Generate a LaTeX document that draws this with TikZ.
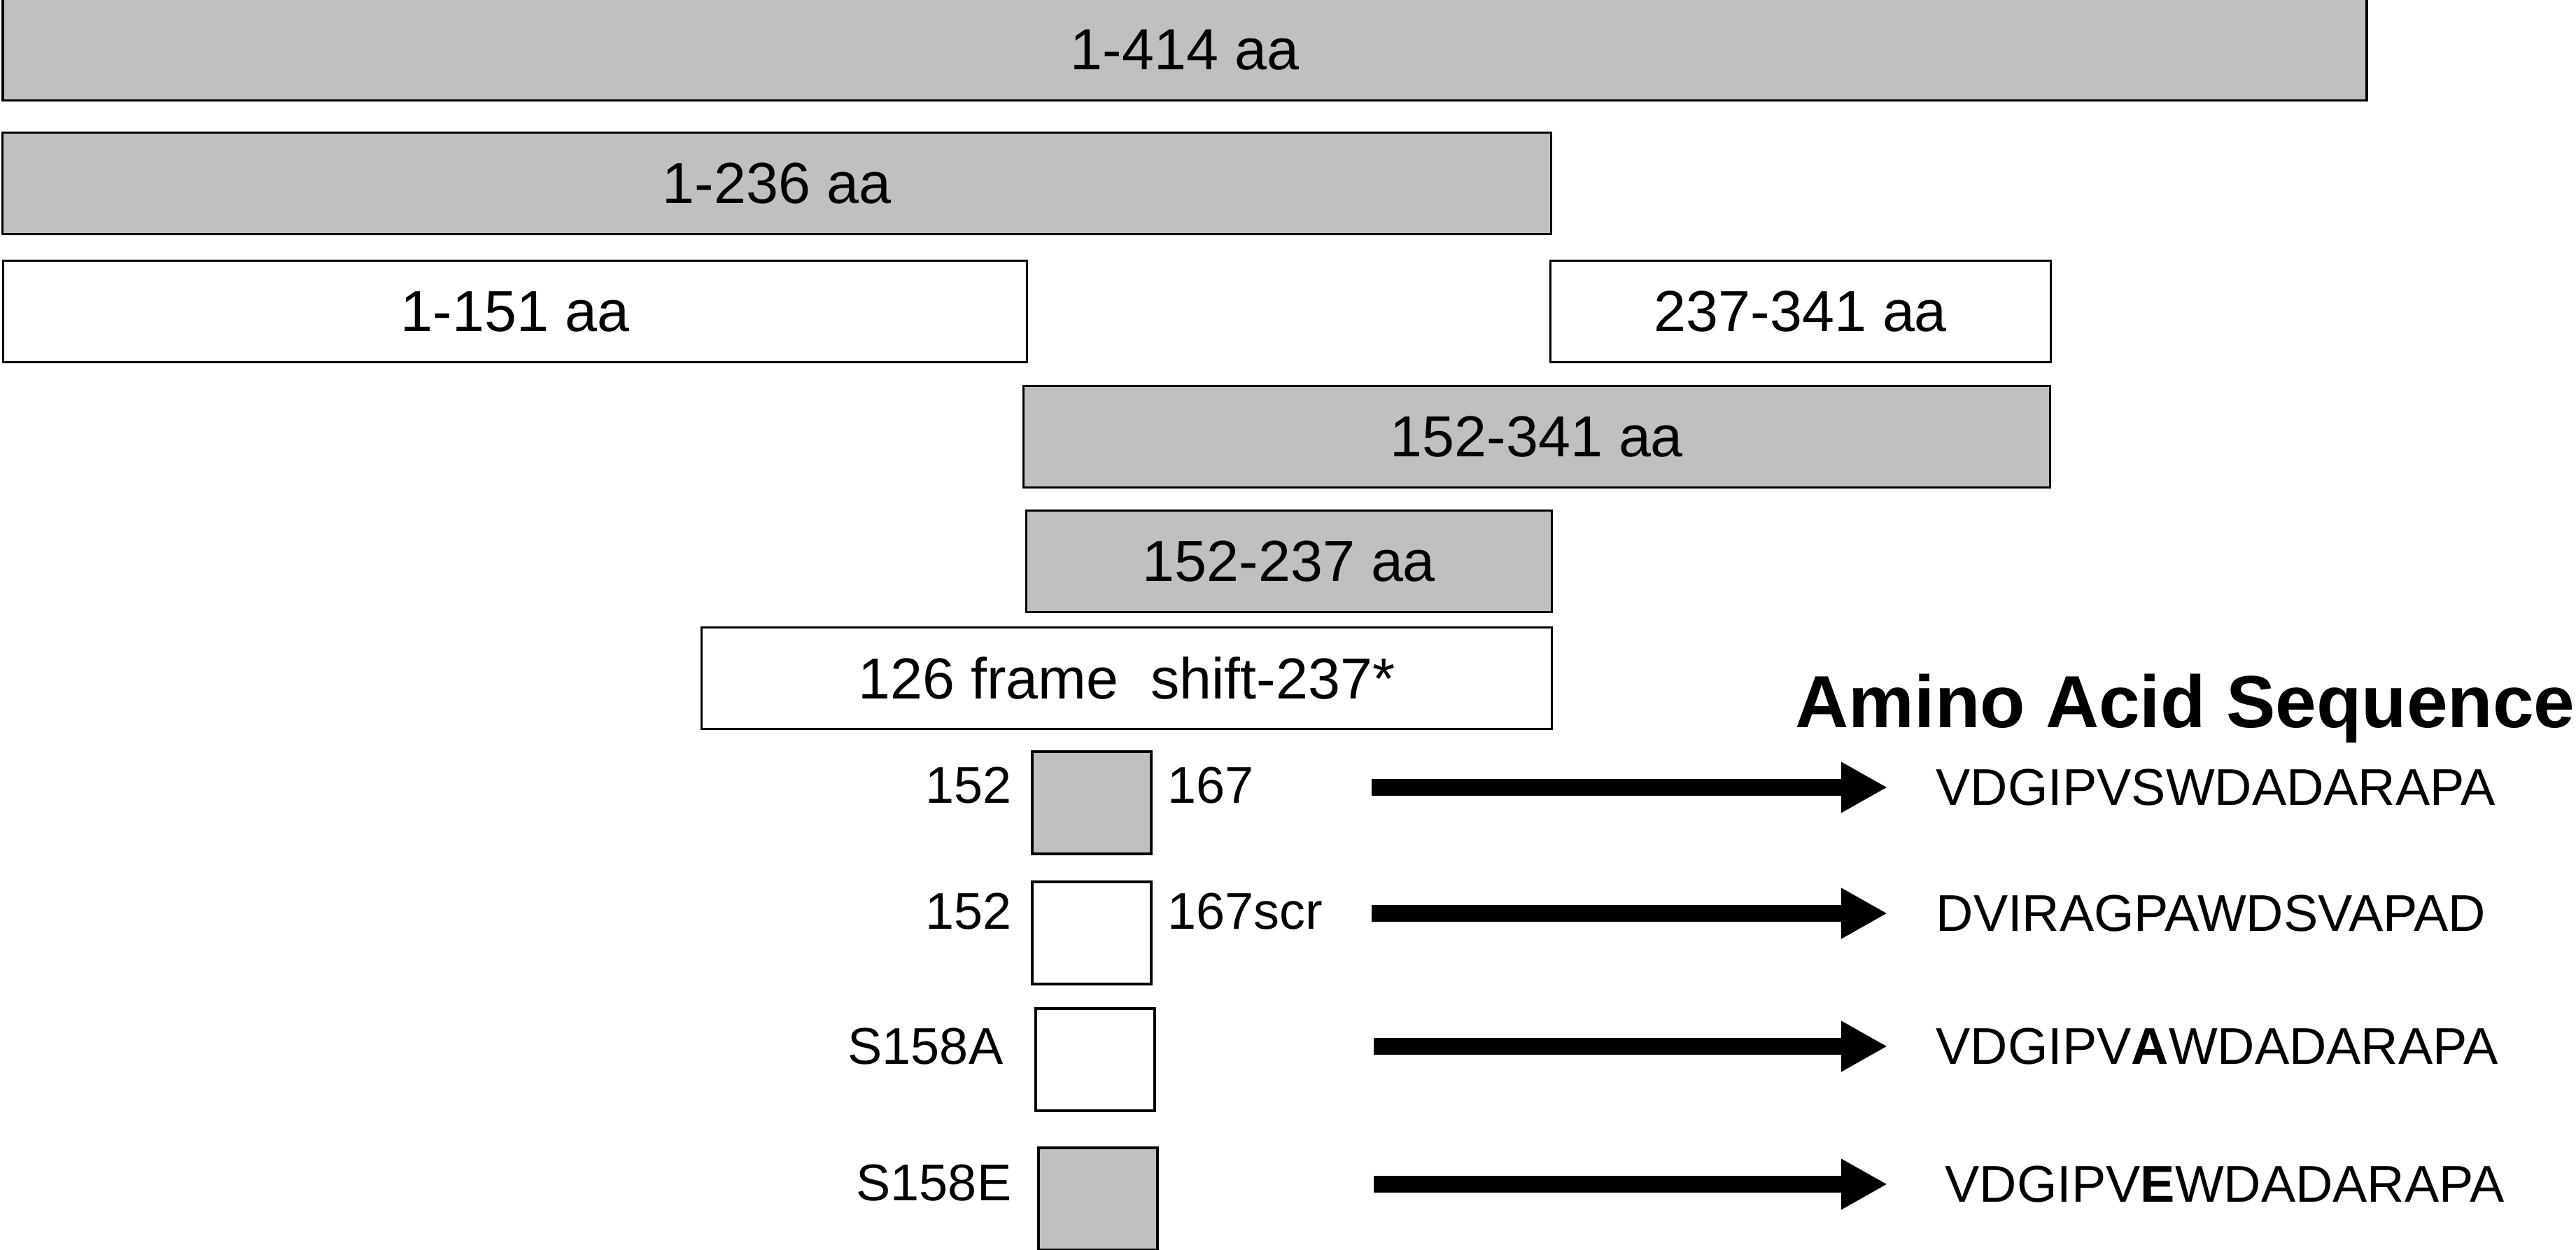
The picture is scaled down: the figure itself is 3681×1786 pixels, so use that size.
\documentclass[tikz,border=0pt]{standalone}
\usepackage{fontspec}
\setmainfont{Liberation Sans}
\usepackage{xcolor}
\usetikzlibrary{arrows.meta}
\definecolor{barfill}{RGB}{192,192,192}

\begin{document}
\begin{tikzpicture}[x=0.01cm,y=-0.01cm,
  bar/.style={draw=black,line width=0.9pt,inner sep=0pt,minimum height=1.45cm,
    font=\fontsize{23.5}{28}\selectfont},
  graybar/.style={bar,fill=barfill},
  whitebar/.style={bar,fill=white},
  pep/.style={draw=black,line width=0.9pt,inner sep=0pt,minimum width=1.7cm,minimum height=1.46cm},
  lbl/.style={inner sep=0pt,font=\fontsize{21}{25}\selectfont},
  fatarrow/.style={line width=0.24cm,-{Triangle[length=0.66cm,width=0.68cm]}}]

\useasboundingbox (0,0) rectangle (3681,1786);

% Constructs
\node[graybar,minimum width=33.76cm] (aa414) at (1693,71) {1-414 aa};
\node[graybar,minimum width=22.11cm] (aa236) at (1110,262) {1-236 aa};
\node[whitebar,minimum width=14.62cm] (aa151) at (736,445) {1-151 aa};
\node[whitebar,minimum width=7.14cm] (aa237) at (2573,445) {237-341 aa};
\node[graybar,minimum width=14.66cm] (aa152) at (2196,624) {152-341 aa};
\node[graybar,minimum width=7.50cm] (aa152b) at (1842,802) {152-237 aa};
\node[whitebar,minimum width=12.14cm] (fshift) at (1610,969) {126 frame\ \ shift-237*};

% Peptides
\node[pep,fill=barfill] (pep1) at (1560,1147) {};
\node[pep,fill=white] (pep2) at (1560,1333) {};
\node[pep,fill=white] (pep3) at (1565,1514) {};
\node[pep,fill=barfill] (pep4) at (1569,1713) {};

\node[lbl,anchor=east] (l1a) at (1446,1122) {152};
\node[lbl,anchor=west] (l1b) at (1668,1122) {167};
\node[lbl,anchor=east] (l2a) at (1446,1302) {152};
\node[lbl,anchor=west] (l2b) at (1668,1302) {167scr};
\node[lbl,anchor=east] (l3a) at (1434,1495) {S158A};
\node[lbl,anchor=east] (l4a) at (1446,1690) {S158E};

% Sequences
\node[inner sep=0pt,anchor=base west,font=\fontsize{30}{36}\selectfont\bfseries] (head) at (2565,1040) {Amino Acid Sequence};
\node[lbl,anchor=west] (seq1) at (2766,1125) {VDGIPVSWDADARAPA};
\node[lbl,anchor=west] (seq2) at (2766,1305) {DVIRAGPAWDSVAPAD};
\node[lbl,anchor=west] (seq3) at (2766,1495) {VDGIPV\textbf{A}WDADARAPA};
\node[lbl,anchor=west] (seq4) at (2779,1692) {VDGIPV\textbf{E}WDADARAPA};

\coordinate (a1) at (1960,1125);
\coordinate (a2) at (1960,1305);
\coordinate (a3) at (1963,1495);
\coordinate (a4) at (1963,1692);
\draw[fatarrow,shorten >=0.69cm] (a1) -- (seq1.west);
\draw[fatarrow,shorten >=0.69cm] (a2) -- (seq2.west);
\draw[fatarrow,shorten >=0.69cm] (a3) -- (seq3.west);
\draw[fatarrow,shorten >=0.82cm] (a4) -- (seq4.west);

\end{tikzpicture}
\end{document}
